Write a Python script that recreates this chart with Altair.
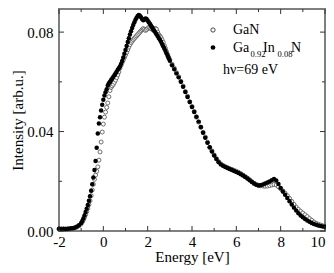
import altair as alt
import pandas as pd

# Energy grid (eV)
energy = [
    -2.0, -1.9, -1.8, -1.7, -1.6, -1.5, -1.4, -1.3, -1.2, -1.1, -1.0,
    -0.95, -0.9, -0.85, -0.8, -0.75, -0.7, -0.65, -0.6, -0.55, -0.5,
    -0.45, -0.4, -0.35, -0.3, -0.25, -0.2, -0.15, -0.1, -0.05, 0.0,
    0.05, 0.1, 0.15, 0.2, 0.25, 0.3, 0.35, 0.4, 0.45, 0.5,
    0.55, 0.6, 0.65, 0.7, 0.75, 0.8, 0.85, 0.9, 0.95, 1.0,
    1.05, 1.1, 1.15, 1.2, 1.25, 1.3, 1.35, 1.4, 1.45, 1.5,
    1.55, 1.6, 1.65, 1.7, 1.75, 1.8, 1.85, 1.9, 1.95, 2.0,
    2.05, 2.1, 2.15, 2.2, 2.25, 2.3, 2.35, 2.4, 2.45, 2.5,
    2.55, 2.6, 2.65, 2.7, 2.75, 2.8, 2.85, 2.9, 2.95, 3.0,
    3.1, 3.2, 3.3, 3.4, 3.5, 3.6, 3.7, 3.8, 3.9, 4.0,
    4.1, 4.2, 4.3, 4.4, 4.5, 4.6, 4.7, 4.8, 4.9, 5.0,
    5.1, 5.2, 5.3, 5.4, 5.5, 5.6, 5.7, 5.8, 5.9, 6.0,
    6.1, 6.2, 6.3, 6.4, 6.5, 6.6, 6.7, 6.8, 6.9, 7.0,
    7.1, 7.2, 7.3, 7.4, 7.5, 7.6, 7.7, 7.8, 7.9, 8.0,
    8.1, 8.2, 8.3, 8.4, 8.5, 8.6, 8.7, 8.8, 8.9, 9.0,
    9.1, 9.2, 9.3, 9.4, 9.5, 9.6, 9.7, 9.8, 9.9, 10.0,
]

# Ga0.92In0.08N (filled circles)
gainn = [
    0.0009, 0.0008, 0.0009, 0.0008, 0.0009, 0.0010, 0.0011, 0.0013, 0.0017, 0.0023, 0.0032,
    0.0040, 0.0050, 0.0062, 0.0076, 0.0090, 0.0105, 0.0122, 0.0140, 0.0162, 0.0188,
    0.0215, 0.0245, 0.0282, 0.0335, 0.0392, 0.0432, 0.0458, 0.0485, 0.0508, 0.0528,
    0.0545, 0.0558, 0.0570, 0.0585, 0.0594, 0.0600, 0.0607, 0.0613, 0.0620, 0.0627,
    0.0634, 0.0641, 0.0649, 0.0655, 0.0662, 0.0672, 0.0684, 0.0698, 0.0713, 0.0728,
    0.0744, 0.0760, 0.0775, 0.0790, 0.0804, 0.0817, 0.0829, 0.0840, 0.0850, 0.0858,
    0.0865, 0.0869, 0.0866, 0.0860, 0.0853, 0.0848, 0.0850, 0.0855, 0.0853, 0.0847,
    0.0840, 0.0834, 0.0827, 0.0820, 0.0812, 0.0805, 0.0798, 0.0791, 0.0784, 0.0776,
    0.0769, 0.0761, 0.0752, 0.0743, 0.0734, 0.0725, 0.0715, 0.0705, 0.0695, 0.0685,
    0.0667, 0.0651, 0.0634, 0.0618, 0.0600, 0.0580, 0.0559, 0.0539, 0.0519, 0.0499,
    0.0479, 0.0460, 0.0440, 0.0418, 0.0395, 0.0375, 0.0355, 0.0337, 0.0320, 0.0304,
    0.0290, 0.0277, 0.0268, 0.0262, 0.0257, 0.0253, 0.0249, 0.0245, 0.0241, 0.0237,
    0.0233, 0.0228, 0.0223, 0.0217, 0.0211, 0.0204, 0.0197, 0.0191, 0.0186, 0.0183,
    0.0184, 0.0187, 0.0191, 0.0195, 0.0199, 0.0204, 0.0209, 0.0203, 0.0189, 0.0173,
    0.0159, 0.0146, 0.0133, 0.0120, 0.0107, 0.0094, 0.0082, 0.0071, 0.0062, 0.0055,
    0.0048, 0.0042, 0.0037, 0.0032, 0.0028, 0.0025, 0.0022, 0.0020, 0.0018, 0.0017,
]

# GaN (open circles)
gan = [
    0.0007, 0.0008, 0.0007, 0.0008, 0.0008, 0.0009, 0.0010, 0.0012, 0.0016, 0.0021, 0.0029,
    0.0036, 0.0045, 0.0055, 0.0066, 0.0078, 0.0091, 0.0106, 0.0122, 0.0142, 0.0165,
    0.0188, 0.0208, 0.0225, 0.0240, 0.0258, 0.0285, 0.0318, 0.0358, 0.0398, 0.0430,
    0.0458, 0.0478, 0.0497, 0.0515, 0.0540, 0.0565, 0.0578, 0.0584, 0.0590, 0.0598,
    0.0607, 0.0617, 0.0628, 0.0640, 0.0655, 0.0667, 0.0678, 0.0688, 0.0698, 0.0708,
    0.0718, 0.0729, 0.0740, 0.0750, 0.0758, 0.0764, 0.0770, 0.0775, 0.0780, 0.0785,
    0.0790, 0.0795, 0.0800, 0.0805, 0.0810, 0.0814, 0.0811, 0.0807, 0.0810, 0.0815,
    0.0819, 0.0817, 0.0814, 0.0811, 0.0809, 0.0812, 0.0815, 0.0811, 0.0800, 0.0790,
    0.0784, 0.0778, 0.0769, 0.0759, 0.0746, 0.0735, 0.0722, 0.0710, 0.0699, 0.0689,
    0.0671, 0.0655, 0.0637, 0.0620, 0.0602, 0.0583, 0.0561, 0.0542, 0.0520, 0.0501,
    0.0481, 0.0458, 0.0438, 0.0417, 0.0397, 0.0378, 0.0357, 0.0336, 0.0322, 0.0306,
    0.0291, 0.0279, 0.0270, 0.0264, 0.0259, 0.0255, 0.0251, 0.0248, 0.0244, 0.0240,
    0.0236, 0.0231, 0.0225, 0.0219, 0.0213, 0.0206, 0.0199, 0.0192, 0.0187, 0.0184,
    0.0182, 0.0181, 0.0180, 0.0181, 0.0183, 0.0185, 0.0187, 0.0185, 0.0178, 0.0170,
    0.0161, 0.0152, 0.0142, 0.0131, 0.0119, 0.0107, 0.0096, 0.0087, 0.0079, 0.0072,
    0.0065, 0.0058, 0.0050, 0.0043, 0.0036, 0.0031, 0.0027, 0.0024, 0.0021, 0.0019,
]

x_labels = [-2, 0, 2, 4, 6, 8, 10]
x_minor = [-1, 1, 3, 5, 7, 9]
y_labels = [0.0, 0.04, 0.08]
y_minor = [0.02, 0.06]

W, H = 266, 222
FONT = "Liberation Serif"
TICK = "#333333"

x_scale = alt.Scale(domain=[-2, 10], nice=False, zero=False)
y_scale = alt.Scale(domain=[0, 0.0893], nice=False, zero=False)

x_axis = alt.Axis(values=x_labels, labelExpr="'' + datum.value", title="Energy [eV]",
                  ticks=False, tickSize=0, domain=False, grid=False, labelPadding=3,
                  titlePadding=0,
                  labelAlign={"condition": {"test": "datum.value == 10", "value": "right"},
                              "value": "center"})
y_axis = alt.Axis(values=y_labels, format=".2f", title="Intensity [arb.u.]",
                  ticks=False, tickSize=0, domain=False, grid=False, labelPadding=6,
                  titlePadding=1)

df_gan = pd.DataFrame({"E": energy, "I": gan})
df_gainn = pd.DataFrame({"E": energy, "I": gainn})

open_pts = alt.Chart(df_gan).mark_point(
    shape="circle", size=16, filled=False, fill="white", fillOpacity=1,
    stroke="#4d4d4d", strokeWidth=0.8, opacity=1
).encode(
    x=alt.X("E:Q", scale=x_scale, axis=x_axis),
    y=alt.Y("I:Q", scale=y_scale, axis=y_axis),
)

filled_pts = alt.Chart(df_gainn).mark_point(
    shape="circle", size=20, filled=True, color="black", opacity=1
).encode(
    x=alt.X("E:Q", scale=x_scale),
    y=alt.Y("I:Q", scale=y_scale),
)

# Inward ticks on all four sides
xmaj = pd.DataFrame({"E": x_labels})
xmin = pd.DataFrame({"E": x_minor})
ymaj = pd.DataFrame({"I": y_labels})
ymin = pd.DataFrame({"I": y_minor})

def xticks(df, length):
    bottom = alt.Chart(df).mark_rule(color=TICK, strokeWidth=1).encode(
        x=alt.X("E:Q", scale=x_scale), y=alt.value(H), y2=alt.value(H - length))
    top = alt.Chart(df).mark_rule(color=TICK, strokeWidth=1).encode(
        x=alt.X("E:Q", scale=x_scale), y=alt.value(0), y2=alt.value(length))
    return [bottom, top]

def yticks(df, length):
    left = alt.Chart(df).mark_rule(color=TICK, strokeWidth=1).encode(
        y=alt.Y("I:Q", scale=y_scale), x=alt.value(0), x2=alt.value(length))
    right = alt.Chart(df).mark_rule(color=TICK, strokeWidth=1).encode(
        y=alt.Y("I:Q", scale=y_scale), x=alt.value(W), x2=alt.value(W - length))
    return [left, right]

tick_layers = xticks(xmaj, 5) + xticks(xmin, 3) + yticks(ymaj, 5) + yticks(ymin, 3)

# Legend drawn by hand (subscripted formula)
one = pd.DataFrame({"a": [0]})
leg_open = alt.Chart(one).mark_point(shape="circle", size=18, filled=False, fill="white",
                                     stroke="#333333", strokeWidth=0.9, opacity=1).encode(
    x=alt.value(154), y=alt.value(21))
leg_fill = alt.Chart(one).mark_point(shape="circle", size=22, filled=True, color="black",
                                     opacity=1).encode(
    x=alt.value(154), y=alt.value(38.5))

def txt(s, x, y, size=14):
    return alt.Chart(one).mark_text(text=s, font=FONT, fontSize=size, align="left",
                                    baseline="middle", color="black").encode(
        x=alt.value(x), y=alt.value(y))

legend_layers = [
    leg_open, leg_fill,
    txt("GaN", 174, 21),
    txt("Ga", 174, 38.5),
    txt("0.92", 191.5, 45, 8.5),
    txt("In", 204, 38.5),
    txt("0.08", 218.5, 45, 8.5),
    txt("N", 232, 38.5),
    txt("hν=69 eV", 164, 61),
]

chart = alt.layer(open_pts, filled_pts, *tick_layers, *legend_layers).properties(
    width=W, height=H,
    autosize=alt.AutoSizeParams(type="none"),
    padding={"left": 51, "top": 1, "right": 1, "bottom": 34},
).configure_view(
    stroke="#7f7f7f", strokeWidth=2
).configure_axis(
    labelFont=FONT, labelFontSize=15, labelColor="black",
    titleFont=FONT, titleFontSize=15, titleFontWeight="normal", titleColor="black",
)

chart.save("out.html", embed_options={"renderer": "svg", "actions": False})
